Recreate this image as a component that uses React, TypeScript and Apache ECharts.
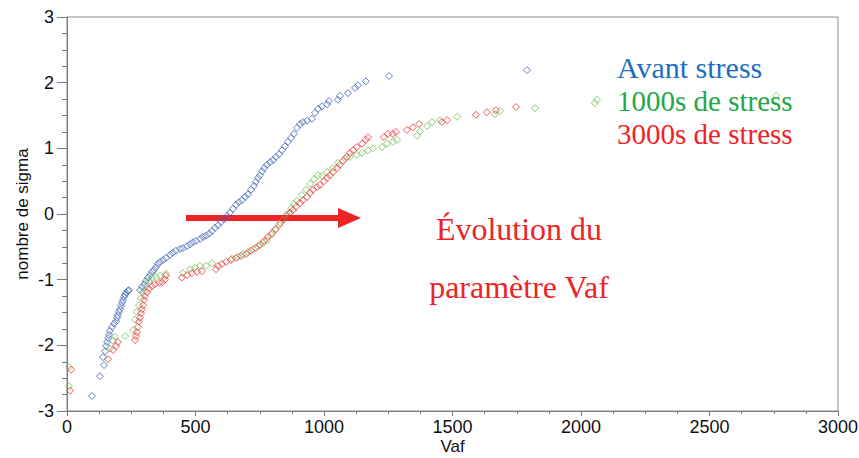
import React, { useEffect, useRef } from "react";
import * as echarts from "echarts";

// Avant stress [Vaf, sigma]
const avantStress: [number, number][] = [
  [97, -2.77], [128, -2.47], [144, -2.3], [140, -2.18], [148, -2.09], [152, -2.01], [156, -1.95],
  [160, -1.89], [163, -1.84], [167, -1.78], [175, -1.72], [183, -1.67], [191, -1.63], [195, -1.58],
  [198, -1.54], [202, -1.49], [206, -1.45], [210, -1.4], [214, -1.35], [218, -1.31], [222, -1.26],
  [226, -1.23], [230, -1.2], [237, -1.17], [241, -1.16], [284, -1.16], [292, -1.11], [300, -1.07],
  [307, -1.02], [315, -0.97], [323, -0.93], [331, -0.88], [339, -0.85], [346, -0.81], [354, -0.76],
  [362, -0.73], [374, -0.7], [385, -0.67], [401, -0.62], [412, -0.59], [424, -0.56], [440, -0.53],
  [451, -0.52], [467, -0.49], [479, -0.46], [490, -0.43], [502, -0.41], [518, -0.38], [529, -0.35],
  [541, -0.33], [553, -0.3], [564, -0.26], [576, -0.21], [588, -0.17], [599, -0.12], [611, -0.08],
  [623, -0.03], [634, 0.02], [646, 0.08], [658, 0.14], [669, 0.18], [681, 0.21], [693, 0.26],
  [704, 0.3], [716, 0.37], [728, 0.43], [735, 0.49], [743, 0.55], [751, 0.59], [759, 0.65],
  [767, 0.7], [778, 0.75], [790, 0.79], [802, 0.82], [813, 0.87], [825, 0.91], [837, 0.97],
  [848, 1.03], [860, 1.1], [872, 1.16], [883, 1.22], [895, 1.31], [907, 1.37], [918, 1.4],
  [934, 1.42], [953, 1.45], [965, 1.54], [977, 1.6], [992, 1.64], [1012, 1.67], [1019, 1.72],
  [1054, 1.74], [1062, 1.8], [1093, 1.84], [1121, 1.92], [1132, 1.96], [1163, 2.02], [1253, 2.1],
  [1790, 2.19],
];

// 1000s de stress [Vaf, sigma]
const stress1000: [number, number][] = [
  [8, -2.33], [8, -2.62], [167, -2.05], [179, -1.93], [187, -1.87], [226, -1.86], [257, -1.77],
  [265, -1.61], [272, -1.49], [280, -1.39], [288, -1.28], [296, -1.19], [307, -1.1], [319, -1.02],
  [331, -0.97], [346, -0.96], [362, -0.94], [385, -0.91], [451, -0.9], [479, -0.84], [498, -0.82],
  [518, -0.79], [541, -0.79], [564, -0.75], [642, -0.68], [665, -0.65], [685, -0.61], [704, -0.58],
  [724, -0.53], [743, -0.49], [763, -0.44], [778, -0.4], [794, -0.32], [809, -0.24], [825, -0.17],
  [840, -0.09], [856, 0.0], [872, 0.09], [883, 0.15], [895, 0.2], [914, 0.29], [930, 0.37],
  [946, 0.46], [961, 0.53], [977, 0.59], [992, 0.58], [1012, 0.64], [1035, 0.7], [1054, 0.78],
  [1082, 0.84], [1101, 0.87], [1128, 0.9], [1148, 0.93], [1171, 0.97], [1191, 1.0], [1226, 1.02],
  [1245, 1.07], [1268, 1.1], [1284, 1.13], [1362, 1.19], [1374, 1.26], [1401, 1.34], [1420, 1.4],
  [1451, 1.43], [1518, 1.48], [1665, 1.52], [1685, 1.57], [1821, 1.61], [2054, 1.69], [2062, 1.74],
  [2759, 1.8],
];

// 3000s de stress [Vaf, sigma]
const stress3000: [number, number][] = [
  [12, -2.69], [16, -2.37], [160, -2.21], [179, -2.07], [191, -2.01], [198, -1.95], [265, -1.92],
  [268, -1.86], [272, -1.8], [276, -1.72], [280, -1.64], [284, -1.58], [288, -1.51], [292, -1.45],
  [296, -1.39], [300, -1.31], [303, -1.25], [311, -1.19], [319, -1.14], [331, -1.1], [342, -1.07],
  [358, -1.05], [370, -1.04], [381, -1.0], [385, -0.94], [447, -0.97], [467, -0.93], [486, -0.9],
  [506, -0.88], [525, -0.87], [580, -0.84], [588, -0.79], [603, -0.76], [619, -0.73], [638, -0.7],
  [658, -0.67], [677, -0.64], [697, -0.61], [716, -0.56], [735, -0.52], [751, -0.47], [767, -0.41],
  [782, -0.35], [798, -0.29], [813, -0.23], [829, -0.14], [844, -0.08], [856, -0.03], [868, 0.02],
  [879, 0.06], [891, 0.11], [907, 0.17], [918, 0.21], [934, 0.26], [946, 0.32], [957, 0.37],
  [973, 0.41], [984, 0.44], [1000, 0.5], [1012, 0.55], [1023, 0.59], [1035, 0.64], [1051, 0.7],
  [1062, 0.75], [1074, 0.81], [1089, 0.87], [1101, 0.93], [1113, 0.97], [1128, 1.02], [1148, 1.07],
  [1163, 1.13], [1171, 1.17], [1233, 1.17], [1249, 1.22], [1268, 1.22], [1280, 1.25], [1323, 1.28],
  [1346, 1.32], [1370, 1.37], [1459, 1.4], [1479, 1.43], [1591, 1.51], [1634, 1.55], [1669, 1.58],
  [1747, 1.63],
];

const seriesNames = ["Avant stress", "1000s de stress", "3000s de stress"];
const annotationLines = ["Évolution du", "paramètre Vaf"];

export default function App() {
  const ref = useRef<HTMLDivElement>(null);
  useEffect(() => {
    if (!ref.current) return;
    const chart = echarts.init(ref.current, null, { renderer: "svg" });
    const mk = (name: string, data: [number, number][], color: string) => ({
      name,
      type: "scatter",
      data,
      symbol: "diamond",
      symbolSize: [7, 7],
      itemStyle: { color: "rgba(255,255,255,0)", borderColor: color, borderWidth: 1 },
      emphasis: { disabled: true },
    });
    const axisCol = "#7a7a7a";
    const tickFont = "'Liberation Sans Narrow', 'Liberation Sans', sans-serif";
    chart.setOption({
      animation: false,
      backgroundColor: "#ffffff",
      grid: {
        left: 67, top: 17, right: 21, bottom: 47, show: true, borderColor: "#8a8a8a", borderWidth: 1,
        outerBoundsMode: "none", containLabel: false,
      },
      xAxis: {
        type: "value",
        min: 0,
        max: 3000,
        interval: 500,
        name: "Vaf",
        nameLocation: "middle",
        nameGap: 27,
        nameMoveOverlap: false,
        nameTextStyle: { fontFamily: "Liberation Sans", fontSize: 17, color: "#111" },
        axisLine: { onZero: false, lineStyle: { color: axisCol } },
        axisTick: { show: true, length: 5, lineStyle: { color: axisCol } },
        minorTick: { show: true, splitNumber: 4, length: 3, lineStyle: { color: axisCol } },
        splitLine: { show: false },
        axisLabel: { fontFamily: tickFont, fontSize: 18, color: "#111", margin: 7, formatter: (v: number) => String(v) },
      },
      yAxis: {
        type: "value",
        min: -3,
        max: 3,
        interval: 1,
        name: "nombre de sigma",
        nameLocation: "middle",
        nameGap: 36,
        nameMoveOverlap: false,
        nameRotate: 90,
        nameTextStyle: { fontFamily: "Liberation Sans", fontSize: 17, color: "#111" },
        axisLine: { onZero: false, lineStyle: { color: axisCol } },
        axisTick: { show: true, length: 10, lineStyle: { color: axisCol } },
        minorTick: { show: true, splitNumber: 4, length: 5, lineStyle: { color: axisCol } },
        splitLine: { show: false },
        axisLabel: { fontFamily: tickFont, fontSize: 18, color: "#111", margin: 13, formatter: (v: number) => String(v) },
      },
      series: [
        mk(seriesNames[0], avantStress, "#3a5fb5"),
        mk(seriesNames[1], stress1000, "#6cc04f"),
        mk(seriesNames[2], stress3000, "#ec2f36"),
      ],
      graphic: [
        { type: "rect", shape: { x: 186, y: 215, width: 155, height: 6 }, style: { fill: "#ee2326" } },
        { type: "polygon", shape: { points: [[338, 208], [361, 218], [338, 228]] }, style: { fill: "#ee2326" } },
        { type: "text", x: 617, y: 67, style: { text: seriesNames[0], font: "30px 'Liberation Serif'", fill: "#1b6ec2", verticalAlign: "middle" } },
        { type: "text", x: 617, y: 101, style: { text: seriesNames[1], font: "29px 'Liberation Serif'", fill: "#22a748", verticalAlign: "middle" } },
        { type: "text", x: 617, y: 134, style: { text: seriesNames[2], font: "29px 'Liberation Serif'", fill: "#ee2326", verticalAlign: "middle" } },
        { type: "text", x: 519, y: 229, style: { text: annotationLines[0], font: "32px 'Liberation Serif'", fill: "#ee2326", align: "center", verticalAlign: "middle" } },
        { type: "text", x: 519, y: 287, style: { text: annotationLines[1], font: "32px 'Liberation Serif'", fill: "#ee2326", align: "center", verticalAlign: "middle" } },
      ],
    });
    return () => chart.dispose();
  }, []);
  return <div ref={ref} style={{ width: 859, height: 458, position: "absolute", left: 0, top: 0 }} />;
}
